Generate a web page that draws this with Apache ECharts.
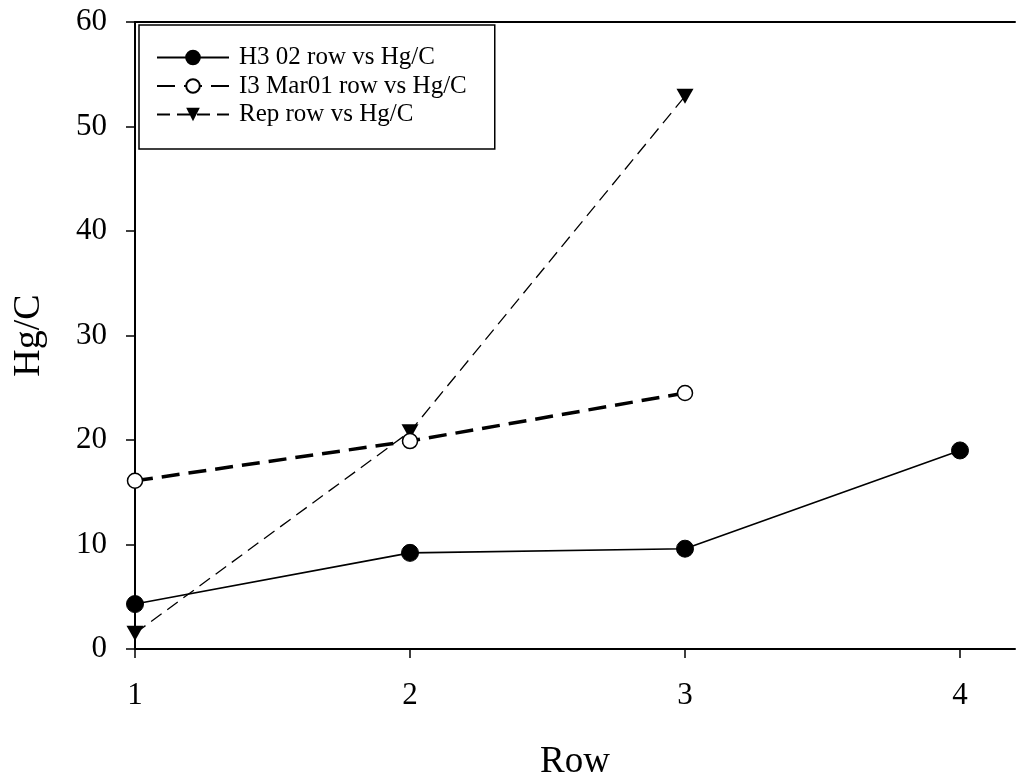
<html>
<head>
  <meta charset="utf-8">
  <title>Hg/C by row</title>
  <script src="https://cdn.jsdelivr.net/npm/echarts@6/dist/echarts.min.js"></script>
  <style>
    html,
    body {
      width: 100%;
      height: 100%;
      margin: 0;
      background: #fff;
    }

    #chart {
      width: 1017px;
      height: 781px;
    }
  </style>
</head>
<body>
  <div id="chart"></div>
  <script>
    var seriesNames = ['H3 02 row vs Hg/C', 'I3 Mar01 row vs Hg/C', 'Rep row vs Hg/C'];
    var h3Rows = [1, 2, 3, 4];
    var h3Vals = [4.3, 9.2, 9.6, 19.0];
    var i3Rows = [1, 2, 3];
    var i3Vals = [16.1, 19.9, 24.5];
    var repRows = [1, 2, 3];
    var repVals = [1.5, 20.8, 52.9];

    function pairs(xs, ys) {
      return xs.map(function (x, i) { return [x, ys[i]]; });
    }

    var font = '"Liberation Serif", "DejaVu Serif", serif';
    var myChart = echarts.init(document.getElementById('chart'));

    var option = {
      animation: false,
      textStyle: { fontFamily: font, color: '#000' },
      grid: { left: 135, top: 22, right: 2, bottom: 132, outerBoundsMode: 'none', containLabel: false },
      legend: {
        left: 139,
        top: 25,
        orient: 'vertical',
        padding: [20, 28, 22, 17],
        itemWidth: 72,
        itemHeight: 17,
        itemGap: 3.5,
        borderColor: '#000',
        borderWidth: 1.5,
        borderRadius: 0,
        textStyle: { fontFamily: font, fontSize: 25, color: '#000', padding: [0, 0, 0, 5] },
        data: seriesNames
      },
      xAxis: [{
        type: 'value',
        min: 1,
        max: 4.2,
        interval: 1,
        name: 'Row',
        nameLocation: 'middle',
        nameGap: 95,
        nameTextStyle: { fontFamily: font, fontSize: 37, color: '#000' },
        axisLine: { show: true, onZero: false, lineStyle: { color: '#000', width: 2 } },
        axisTick: { show: true, length: 9, lineStyle: { color: '#000', width: 1.5 } },
        axisLabel: {
          fontFamily: font, fontSize: 31, color: '#000', margin: 31,
          showMaxLabel: false,
          formatter: function (v) { return Number.isInteger(v) ? String(v) : ''; }
        },
        splitLine: { show: false }
      }, {
        type: 'value',
        position: 'top',
        min: 1,
        max: 4.2,
        axisLine: { show: true, onZero: false, lineStyle: { color: '#000', width: 2 } },
        axisTick: { show: false },
        axisLabel: { show: false },
        splitLine: { show: false }
      }],
      yAxis: {
        type: 'value',
        min: 0,
        max: 60,
        interval: 10,
        name: 'Hg/C',
        nameLocation: 'middle',
        nameGap: 87,
        nameTextStyle: { fontFamily: font, fontSize: 38, color: '#000' },
        axisLine: { show: true, onZero: false, lineStyle: { color: '#000', width: 2 } },
        axisTick: { show: true, length: 9, lineStyle: { color: '#000', width: 1.5 } },
        axisLabel: { fontFamily: font, fontSize: 31, color: '#000', margin: 28 },
        splitLine: { show: false }
      },
      series: [{
        name: seriesNames[0],
        type: 'line',
        data: pairs(h3Rows, h3Vals),
        symbol: 'circle',
        symbolSize: 17,
        itemStyle: { color: '#000', borderColor: '#000', borderWidth: 1 },
        lineStyle: { color: '#000', width: 1.6, type: 'solid' },
        z: 3
      }, {
        name: seriesNames[1],
        type: 'line',
        data: pairs(i3Rows, i3Vals),
        symbol: 'circle',
        symbolSize: 15,
        itemStyle: { color: '#fff', borderColor: '#000', borderWidth: 1.5 },
        lineStyle: { color: '#000', width: 3.5, type: [18, 9] },
        z: 4
      }, {
        name: seriesNames[2],
        type: 'line',
        data: pairs(repRows, repVals),
        symbol: 'triangle',
        symbolRotate: 180,
        symbolSize: [17, 15],
        itemStyle: { color: '#000', borderColor: '#000', borderWidth: 0 },
        lineStyle: { color: '#000', width: 1.3, type: [13, 7] },
        z: 2
      }]
    };
    myChart.setOption(option);
  </script>
</body>
</html>
